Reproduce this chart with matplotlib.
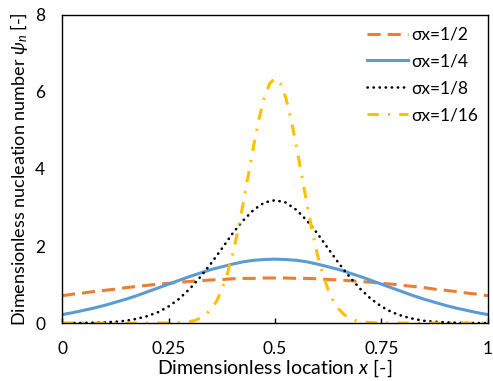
import numpy as np
import matplotlib.pyplot as plt

plt.rcParams['font.family'] = ['Lato', 'DejaVu Sans']
plt.rcParams['mathtext.fontset'] = 'custom'
plt.rcParams['mathtext.it'] = 'Lato:italic'

# dimensionless location, shared by the three wider distributions
x = np.linspace(0, 1, 41)

# sigma_x = 1/2
psi_half = [0.71, 0.75, 0.78, 0.82, 0.85, 0.88, 0.92, 0.95, 0.98, 1.01,
            1.03, 1.06, 1.08, 1.10, 1.12, 1.13, 1.15, 1.16, 1.16, 1.17,
            1.17,
            1.17, 1.16, 1.16, 1.15, 1.13, 1.12, 1.10, 1.08, 1.06, 1.03,
            1.01, 0.98, 0.95, 0.92, 0.88, 0.85, 0.82, 0.78, 0.75, 0.71]

# sigma_x = 1/4
psi_quarter = [0.22, 0.27, 0.33, 0.39, 0.46, 0.54, 0.62, 0.71, 0.81, 0.91,
               1.01, 1.11, 1.21, 1.30, 1.39, 1.46, 1.53, 1.59, 1.63, 1.65,
               1.66,
               1.65, 1.63, 1.59, 1.53, 1.46, 1.39, 1.30, 1.21, 1.11, 1.01,
               0.91, 0.81, 0.71, 0.62, 0.54, 0.46, 0.39, 0.33, 0.27, 0.22]

# sigma_x = 1/8
psi_eighth = [0.001, 0.002, 0.005, 0.01, 0.02, 0.035, 0.06, 0.11, 0.18, 0.28,
              0.43, 0.63, 0.89, 1.20, 1.55, 1.93, 2.32, 2.66, 2.94, 3.13,
              3.19,
              3.13, 2.94, 2.66, 2.32, 1.93, 1.55, 1.20, 0.89, 0.63, 0.43,
              0.28, 0.18, 0.11, 0.06, 0.035, 0.02, 0.01, 0.005, 0.002, 0.001]

# sigma_x = 1/16, read more densely around the peak
x16 = [0.0, 0.1, 0.2, 0.25, 0.275, 0.3, 0.3125, 0.325, 0.3375, 0.35,
       0.3625, 0.375, 0.3875, 0.4, 0.4125, 0.425, 0.4375, 0.45, 0.4625,
       0.475, 0.4875, 0.5,
       0.5125, 0.525, 0.5375, 0.55, 0.5625, 0.575, 0.5875, 0.6, 0.6125,
       0.625, 0.6375, 0.65, 0.6625, 0.675, 0.6875, 0.7, 0.725, 0.75, 0.8,
       0.9, 1.0]
psi_sixteenth = [0.0, 0.0, 0.0, 0.002, 0.01, 0.04, 0.07, 0.13, 0.22, 0.36,
                 0.56, 0.86, 1.26, 1.76, 2.38, 3.09, 3.85, 4.61, 5.30,
                 5.86, 6.22, 6.35,
                 6.22, 5.86, 5.30, 4.61, 3.85, 3.09, 2.38, 1.76, 1.26,
                 0.86, 0.56, 0.36, 0.22, 0.13, 0.07, 0.04, 0.01, 0.002, 0.0,
                 0.0, 0.0]

xticks = [0, 0.25, 0.5, 0.75, 1]
xticklabels = ['0', '0.25', '0.5', '0.75', '1']
yticks = [0, 2, 4, 6, 8]

fig = plt.figure(figsize=(4.93, 3.81), dpi=100)
ax = fig.add_axes([0.1258, 0.152, 0.864, 0.809])

ax.plot(x, psi_half, color='#ED7D31', lw=2.2, dashes=(4.3, 2.3),
        label='σx=1/2')
ax.plot(x, psi_quarter, color='#5B9BD5', lw=2.2, label='σx=1/4')
ax.plot(x, psi_eighth, color='black', lw=1.9, dashes=(0.1, 2.2),
        dash_capstyle='round', label='σx=1/8')
ax.plot(x16, psi_sixteenth, color='#FFC000', lw=2.2,
        dashes=(3.7, 3.0, 0.7, 3.0), label='σx=1/16')

ax.set_xlim(0, 1)
ax.set_ylim(0, 8)
ax.set_xticks(xticks)
ax.set_xticklabels(xticklabels)
ax.set_yticks(yticks)
ax.tick_params(axis='x', direction='in', length=3.6, width=1, pad=13,
               labelsize=12.5)
ax.tick_params(axis='y', length=0, pad=12, labelsize=12.5)
for s in ax.spines.values():
    s.set_linewidth(1.0)
    s.set_color('black')

ax.set_xlabel('Dimensionless location $x$ [-]', fontsize=14, labelpad=0)
ax.set_ylabel('Dimensionless nucleation number $\\psi_n$ [-]',
              fontsize=13, labelpad=4)

ax.legend(loc='upper right', frameon=False, fontsize=12.5,
          handlelength=2.35, handletextpad=0.2, labelspacing=0.63,
          borderaxespad=0.1, bbox_to_anchor=(0.998, 0.99))

fig.savefig('out.png', dpi=100)
